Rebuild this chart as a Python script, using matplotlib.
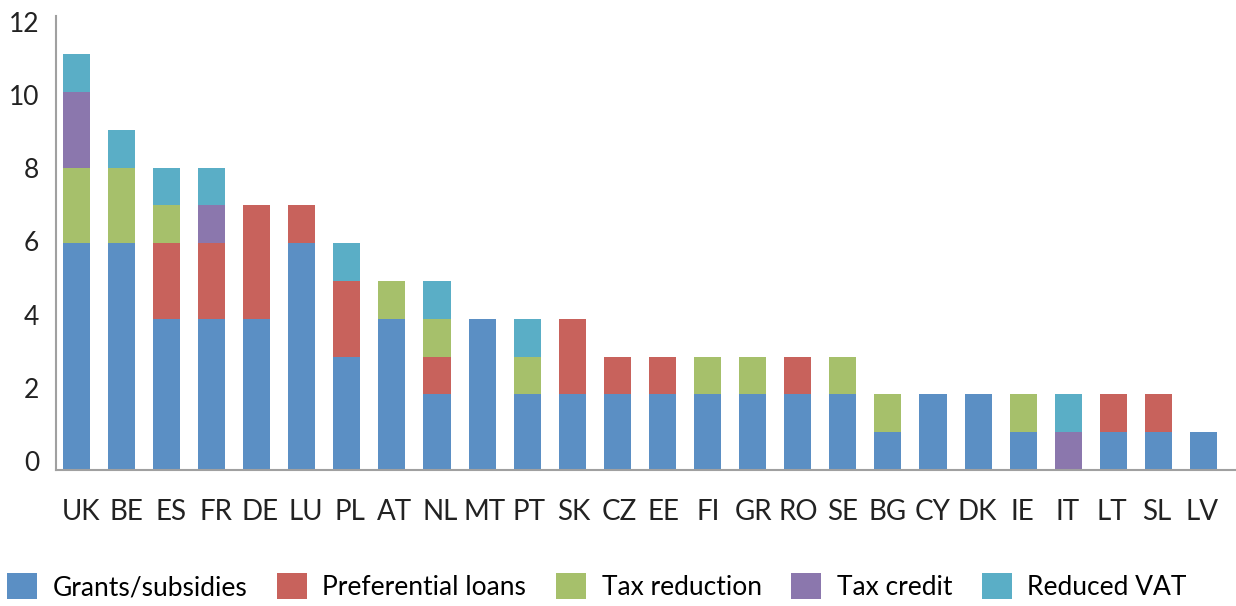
import matplotlib
matplotlib.use('Agg')
import matplotlib.pyplot as plt
import matplotlib.transforms as mtransforms
import numpy as np
from matplotlib.patches import Patch

plt.rcParams['font.family'] = ['Lato', 'DejaVu Sans']

countries = ["UK", "BE", "ES", "FR", "DE", "LU", "PL", "AT", "NL", "MT", "PT", "SK", "CZ",
             "EE", "FI", "GR", "RO", "SE", "BG", "CY", "DK", "IE", "IT", "LT", "SL", "LV"]
grants    = [6, 6, 4, 4, 4, 6, 3, 4, 2, 4, 2, 2, 2, 2, 2, 2, 2, 2, 1, 2, 2, 1, 0, 1, 1, 1]
loans     = [0, 0, 2, 2, 3, 1, 2, 0, 1, 0, 0, 2, 1, 1, 0, 0, 1, 0, 0, 0, 0, 0, 0, 1, 1, 0]
tax_red   = [2, 2, 1, 0, 0, 0, 0, 1, 1, 0, 1, 0, 0, 0, 1, 1, 0, 1, 1, 0, 0, 1, 0, 0, 0, 0]
tax_cred  = [2, 0, 0, 1, 0, 0, 0, 0, 0, 0, 0, 0, 0, 0, 0, 0, 0, 0, 0, 0, 0, 0, 1, 0, 0, 0]
red_vat   = [1, 1, 1, 1, 0, 0, 1, 0, 1, 0, 1, 0, 0, 0, 0, 0, 0, 0, 0, 0, 0, 0, 1, 0, 0, 0]
yticks    = [0, 2, 4, 6, 8, 10, 12]

series = [
    ("Grants/subsidies", grants, "#5B8FC4"),
    ("Preferential loans", loans, "#C8625C"),
    ("Tax reduction", tax_red, "#A6C06B"),
    ("Tax credit", tax_cred, "#8B77AD"),
    ("Reduced VAT", red_vat, "#5AAEC6"),
]

fig = plt.figure(figsize=(12.36, 6.06), dpi=100)
ax = fig.add_axes([0.0453, 0.2244, 0.9547, 0.7486])

x = np.arange(len(countries))
bottom = np.zeros(len(countries))
for name, vals, color in series:
    vals = np.array(vals, dtype=float)
    ax.bar(x, vals, width=0.6, bottom=bottom, color=color, linewidth=0)
    bottom += vals

ax.set_xlim(-0.45, 25.72)
ax.set_ylim(0, 12)
ax.set_yticks(yticks)
ax.set_xticks(x)
ax.set_xticklabels(countries)
ax.tick_params(axis='both', length=0, labelsize=20, colors='#222222')
ax.tick_params(axis='y', labelsize=19)
ax.tick_params(axis='x', pad=21)
ax.tick_params(axis='y', pad=12)
for s in ['top', 'right']:
    ax.spines[s].set_visible(False)
for s in ['left', 'bottom']:
    ax.spines[s].set_color('#A0A0A0')
    ax.spines[s].set_linewidth(1.5)

# the original's labels sit on a slightly tighter spacing than the bars
for v, lab in zip(yticks, ax.get_yticklabels()):
    dy = (9 - 1.2 * v) / 100.0
    lab.set_transform(lab.get_transform() + mtransforms.ScaledTranslation(0, dy, fig.dpi_scale_trans))
for i, lab in enumerate(ax.get_xticklabels()):
    dx = (5 - 0.28 * i) / 100.0
    lab.set_transform(lab.get_transform() + mtransforms.ScaledTranslation(dx, 0, fig.dpi_scale_trans))

handles = [Patch(facecolor=c, edgecolor='none', label=n) for n, _, c in series]
fig.legend(handles=handles, loc='lower left', bbox_to_anchor=(-0.003, -0.008), ncol=5,
           frameon=False, fontsize=19, handlelength=1.13, handleheight=1.13,
           handletextpad=0.6, columnspacing=1.12, borderaxespad=0.2, borderpad=0.2)

fig.savefig('out.png', dpi=100)
